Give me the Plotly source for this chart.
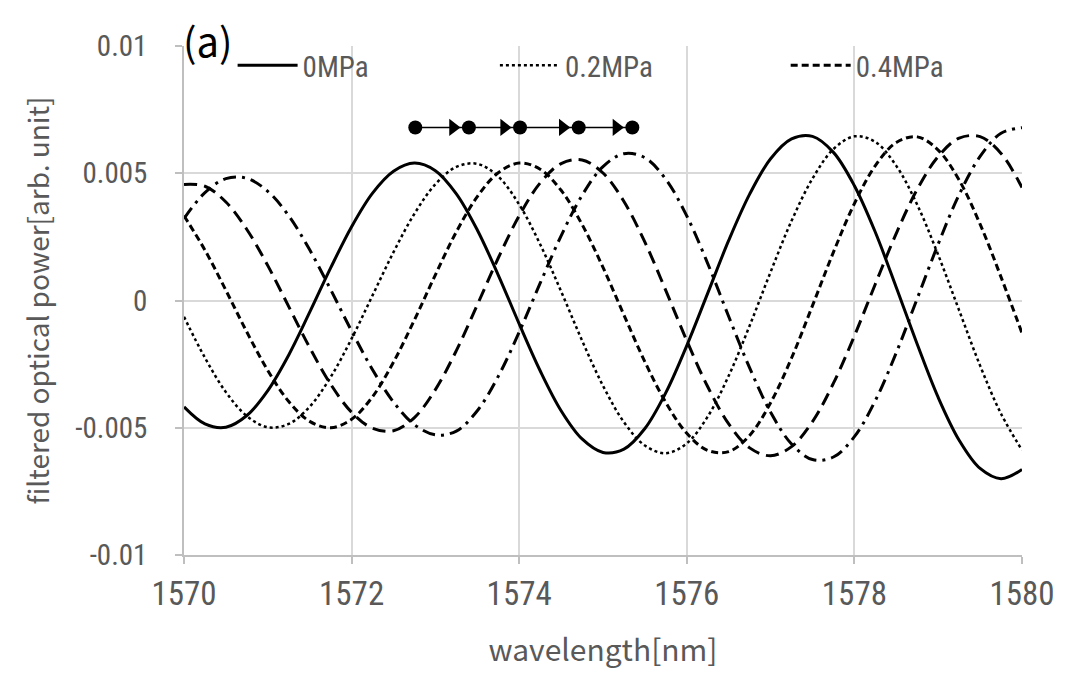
import plotly.graph_objects as go

# wavelength grid [nm]
wavelength = [1570.00, 1570.25, 1570.50, 1570.75, 1571.00, 1571.25, 1571.50, 1571.75,
              1572.00, 1572.25, 1572.50, 1572.75, 1573.00, 1573.25, 1573.50, 1573.75,
              1574.00, 1574.25, 1574.50, 1574.75, 1575.00, 1575.25, 1575.50, 1575.75,
              1576.00, 1576.25, 1576.50, 1576.75, 1577.00, 1577.25, 1577.50, 1577.75,
              1578.00, 1578.25, 1578.50, 1578.75, 1579.00, 1579.25, 1579.50, 1579.75,
              1580.00]

# filtered optical power [arb. unit] for each applied pressure
p_0mpa = [-0.00418, -0.00485, -0.00498, -0.00452, -0.00354, -0.00214, -0.00046, 0.00128,
          0.00290, 0.00422, 0.00508, 0.00540, 0.00510, 0.00419, 0.00277, 0.00100,
          -0.00092, -0.00276, -0.00433, -0.00544, -0.00597, -0.00584, -0.00503, -0.00362,
          -0.00177, 0.00029, 0.00236, 0.00418, 0.00557, 0.00635, 0.00645, 0.00582,
          0.00451, 0.00268, 0.00051, -0.00172, -0.00381, -0.00549, -0.00660, -0.00700,
          -0.00664]
p_02mpa = [-0.00064, -0.00225, -0.00360, -0.00454, -0.00498, -0.00485, -0.00417, -0.00301,
           -0.00150, 0.00020, 0.00190, 0.00341, 0.00457, 0.00525, 0.00537, 0.00487,
           0.00377, 0.00221, 0.00036, -0.00157, -0.00335, -0.00478, -0.00570, -0.00600,
           -0.00561, -0.00456, -0.00296, -0.00099, 0.00112, 0.00313, 0.00479, 0.00595,
           0.00645, 0.00623, 0.00529, 0.00376, 0.00179, -0.00039, -0.00256, -0.00445,
           -0.00588]
p_04mpa = [0.00333, 0.00198, 0.00040, -0.00124, -0.00275, -0.00397, -0.00475, -0.00500,
           -0.00467, -0.00378, -0.00242, -0.00076, 0.00101, 0.00270, 0.00408, 0.00502,
           0.00540, 0.00516, 0.00433, 0.00299, 0.00130, -0.00057, -0.00241, -0.00401,
           -0.00522, -0.00589, -0.00594, -0.00530, -0.00402, -0.00226, -0.00020, 0.00190,
           0.00381, 0.00530, 0.00621, 0.00643, 0.00591, 0.00473, 0.00300, 0.00092,
           -0.00128]
p_06mpa = [0.00456, 0.00449, 0.00387, 0.00279, 0.00137, -0.00024, -0.00185, -0.00329,
           -0.00439, -0.00502, -0.00512, -0.00460, -0.00350, -0.00197, -0.00017, 0.00167,
           0.00333, 0.00462, 0.00538, 0.00552, 0.00501, 0.00389, 0.00229, 0.00039,
           -0.00158, -0.00339, -0.00485, -0.00579, -0.00610, -0.00574, -0.00476, -0.00325,
           -0.00139, 0.00065, 0.00264, 0.00437, 0.00566, 0.00638, 0.00644, 0.00578,
           0.00444]
p_08mpa = [0.00322, 0.00424, 0.00479, 0.00480, 0.00429, 0.00333, 0.00199, 0.00043,
           -0.00120, -0.00272, -0.00399, -0.00488, -0.00528, -0.00513, -0.00433, -0.00298,
           -0.00124, 0.00068, 0.00254, 0.00413, 0.00526, 0.00577, 0.00561, 0.00476,
           0.00332, 0.00145, -0.00063, -0.00265, -0.00439, -0.00564, -0.00625, -0.00615,
           -0.00535, -0.00393, -0.00205, 0.00008, 0.00222, 0.00416, 0.00566, 0.00657,
           0.00679]

# peak positions tracked across pressures (shift indicator)
peak_nm = [1572.76, 1573.40, 1574.01, 1574.71, 1575.35]
peak_track_level = 0.0068

# axis ticks
x_ticks = [1570, 1572, 1574, 1576, 1578, 1580]
y_ticks = [-0.01, -0.005, 0, 0.005, 0.01]
y_tick_text = ["-0.01", "-0.005", "0", "0.005", "0.01"]

NARROW = "Liberation Sans Narrow, Roboto Condensed, Noto Sans CJK JP, sans-serif"
WIDE = "Noto Sans CJK JP, Noto Sans, sans-serif"
GREY = "#595959"

fig = go.Figure()

# (name, values, dash, legend id or None)
series = [
    ("0MPa", p_0mpa, "solid", "legend"),
    ("0.2MPa", p_02mpa, "dot", "legend2"),
    ("0.4MPa", p_04mpa, "7px,4px", "legend3"),
    ("0.6MPa", p_06mpa, "13px,7px", None),
    ("0.8MPa", p_08mpa, "13px,6px,3px,6px", None),
]
for name, values, dash, legend_id in series:
    fig.add_trace(go.Scatter(
        x=wavelength, y=values, mode="lines", name=name,
        line=dict(color="black", width=3 if dash != "dot" else 2.5, dash=dash,
                  shape="spline", smoothing=1.0),
        showlegend=legend_id is not None,
        legend=legend_id or "legend",
    ))

# peak-shift indicator: connected dots with arrowheads
fig.add_trace(go.Scatter(
    x=peak_nm, y=[peak_track_level] * len(peak_nm), mode="lines+markers",
    line=dict(color="black", width=1.5),
    marker=dict(symbol="circle", size=14, color="black"),
    showlegend=False, hoverinfo="skip",
))
fig.add_trace(go.Scatter(
    x=[p - 0.19 for p in peak_nm[1:]], y=[peak_track_level] * (len(peak_nm) - 1),
    mode="markers",
    marker=dict(symbol="triangle-right", size=15, color="black"),
    showlegend=False, hoverinfo="skip",
))

fig.add_annotation(
    text="(a)", xref="paper", yref="paper", x=-0.004, y=1.012,
    xanchor="left", yanchor="middle", showarrow=False,
    font=dict(family=WIDE, size=40, color="black"),
)

legend_style = dict(
    orientation="h", y=1.012, xanchor="left", yanchor="top",
    bgcolor="rgba(0,0,0,0)", font=dict(family=NARROW, size=29, color=GREY),
    itemwidth=60,
)

fig.update_layout(
    width=1065, height=673,
    margin=dict(l=184, r=43, t=46, b=118),
    paper_bgcolor="white", plot_bgcolor="white",
    font=dict(family=NARROW, color=GREY, size=24),
    legend=dict(x=0.058, **legend_style),
    legend2=dict(x=0.371, **legend_style),
    legend3=dict(x=0.718, **legend_style),
    xaxis=dict(
        range=[1570, 1580], tickvals=x_ticks, ticktext=[str(v) for v in x_ticks],
        showgrid=True, gridcolor="#d9d9d9", gridwidth=1.5,
        showline=True, linecolor="#bfbfbf", linewidth=1.5,
        ticks="outside", ticklen=7, tickcolor="#bfbfbf", tickwidth=1.5,
        ticklabelstandoff=2, automargin=False,
        tickfont=dict(size=33, color=GREY),
        title=dict(text="wavelength[nm]", font=dict(family=WIDE, size=30, color=GREY), standoff=28),
        zeroline=False,
    ),
    yaxis=dict(
        range=[-0.01, 0.01], tickvals=y_ticks, ticktext=y_tick_text,
        showgrid=True, gridcolor="#d9d9d9", gridwidth=1.5,
        showline=True, linecolor="#bfbfbf", linewidth=1.5,
        ticks="outside", ticklen=7, tickcolor="#bfbfbf", tickwidth=1.5,
        ticklabelstandoff=22, automargin=False,
        tickfont=dict(size=29, color=GREY),
        title=dict(text="filtered optical power[arb. unit]", font=dict(family=WIDE, size=28, color=GREY), standoff=18),
        zeroline=False,
    ),
)

fig.write_html("out.html")
